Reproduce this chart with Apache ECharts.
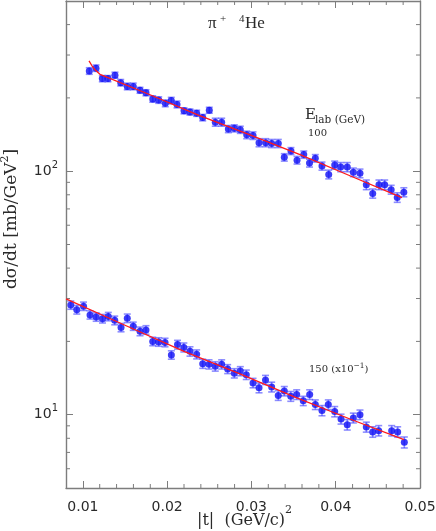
<!DOCTYPE html>
<html>
<head>
<meta charset="utf-8">
<script src="https://cdn.jsdelivr.net/npm/echarts@6/dist/echarts.min.js"></script>
<style>
html, body { margin: 0; padding: 0; background: #fff; }
#chart { width: 436px; height: 531px; }
</style>
</head>
<body>
<div id="chart"></div>
<script>
// pi+ 4He elastic, E_lab = 100 GeV
var t100 = [0.01076, 0.01156, 0.01231, 0.01298, 0.01381, 0.01449, 0.01527, 0.01598, 0.01678, 0.01749,
            0.01829, 0.0190, 0.01978, 0.02049, 0.02117, 0.0220, 0.02271, 0.0235, 0.02422, 0.0250,
            0.02571, 0.02647, 0.02726, 0.02797, 0.02868, 0.02944, 0.03019, 0.0309, 0.03169, 0.0324,
            0.03319, 0.0339, 0.03469, 0.03541, 0.03621, 0.03689, 0.03758, 0.03837, 0.03917, 0.03988,
            0.04059, 0.04137, 0.04209, 0.04288, 0.04363, 0.04439, 0.04513, 0.04581, 0.04658, 0.0473, 0.04808];
var y100 = [258, 265, 240, 240, 248, 231, 223, 223, 215, 210,
            198, 196, 190, 195, 188, 177, 175, 173, 166, 178,
            159, 159, 149, 150, 148, 141, 140, 131, 131, 130,
            130, 114, 121, 111, 117, 108, 113, 105, 97, 106,
            104, 104, 99, 98, 88, 81, 88, 88, 84, 78, 82];
var e100 = [8, 8, 7, 7, 7, 7, 7, 7, 6, 6,
            6, 6, 6, 6, 6, 5, 5, 5, 5, 5,
            6, 6, 5, 5, 5, 5, 5, 5, 5, 5,
            5, 4, 4, 4, 4, 4, 4, 4, 4, 4,
            4.5, 4.5, 4, 4, 4, 3.5, 4, 4, 3.5, 3.5, 3.5];

// E_lab = 150 GeV, shown x10^-1
var t150 = [0.00857, 0.00928, 0.01008, 0.01085, 0.01158, 0.01233, 0.01302, 0.01378, 0.01453, 0.01527,
            0.01598, 0.01678, 0.01749, 0.01829, 0.0190, 0.01975, 0.0205, 0.02123, 0.02198, 0.02271,
            0.0235, 0.02422, 0.02497, 0.02571, 0.02647, 0.02718, 0.02797, 0.02868, 0.02939, 0.03019,
            0.0309, 0.03167, 0.0324, 0.03318, 0.0339, 0.03467, 0.03537, 0.03615, 0.03691, 0.03758,
            0.03837, 0.03912, 0.03988, 0.04063, 0.04137, 0.04209, 0.04288, 0.04363, 0.04439, 0.0451,
            0.04664, 0.04735, 0.04814];
var y150 = [28.2, 27.0, 27.9, 25.7, 25.2, 24.8, 25.3, 24.4, 22.8, 24.9,
            23.1, 22.0, 22.3, 20.0, 19.9, 19.8, 17.6, 19.4, 18.9, 18.2,
            17.7, 16.2, 16.1, 15.8, 16.1, 15.4, 14.8, 15.1, 14.6, 13.5,
            12.9, 13.9, 13.0, 12.0, 12.5, 11.9, 12.1, 11.4, 12.1, 11.0,
            10.4, 11.0, 10.3, 9.6, 9.1, 9.7, 10.0, 8.9, 8.5, 8.6,
            8.6, 8.5, 7.7];
var e150 = [1.1, 1.1, 1.1, 1.0, 1.0, 1.0, 1.0, 1.0, 0.9, 1.0,
            0.9, 0.9, 0.9, 0.8, 0.8, 0.8, 0.7, 0.8, 0.8, 0.8,
            0.75, 0.7, 0.7, 0.7, 0.7, 0.65, 0.65, 0.65, 0.65, 0.6,
            0.6, 0.6, 0.6, 0.55, 0.55, 0.55, 0.55, 0.5, 0.55, 0.5,
            0.5, 0.5, 0.5, 0.45, 0.45, 0.45, 0.45, 0.42, 0.42, 0.42,
            0.42, 0.42, 0.4];

// fitted curves (red)
var fitT100 = [0.01073, 0.01108, 0.01144, 0.01203, 0.01797, 0.0237, 0.02983, 0.03576, 0.04169, 0.04786];
var fitY100 = [284, 271, 261, 250, 206, 170, 141, 117, 95.8, 77.9];
var fitT150 = [0.008, 0.0150, 0.0220, 0.02864, 0.03517, 0.04169, 0.0481];
var fitY150 = [29.9, 23.3, 18.2, 14.7, 11.8, 9.6, 7.9];

// axes
var xMin = 0.008, xMax = 0.05;
var yMin = 5, yMax = 500;
var xMinorTicks = [0.012, 0.014, 0.016, 0.018, 0.022, 0.024, 0.026, 0.028, 0.032, 0.034, 0.036, 0.038,
                   0.042, 0.044, 0.046, 0.048];
var yMinorTicks = [6, 7, 8, 9, 20, 30, 40, 50, 60, 70, 80, 90, 200, 300, 400];

var frameColor = '#7d7d7d';
var textColor = '#2a2a2a';
var errColor = 'rgba(50,50,255,0.55)';

var chart = echarts.init(document.getElementById('chart'));

function pairs(xs, ys) {
  return xs.map(function (x, i) { return [x, ys[i]]; });
}
function errRows(xs, ys, es) {
  return xs.map(function (x, i) { return [x, ys[i] - es[i], ys[i] + es[i]]; });
}

function renderErr(params, api) {
  var lo = api.coord([api.value(0), api.value(1)]);
  var hi = api.coord([api.value(0), api.value(2)]);
  var c = 3.5;
  var st = { stroke: errColor, lineWidth: 1.6 };
  return {
    type: 'group',
    children: [
      { type: 'line', shape: { x1: lo[0], y1: lo[1], x2: hi[0], y2: hi[1] }, style: st },
      { type: 'line', shape: { x1: lo[0] - c, y1: lo[1], x2: lo[0] + c, y2: lo[1] }, style: st },
      { type: 'line', shape: { x1: hi[0] - c, y1: hi[1], x2: hi[0] + c, y2: hi[1] }, style: st }
    ]
  };
}

// minor ticks on all four sides, through the axis scales
function renderYMinor(params, api) {
  var v = api.value(1);
  var l = api.coord([xMin, v]);
  var r = api.coord([xMax, v]);
  var st = { stroke: frameColor, lineWidth: 1 };
  return {
    type: 'group',
    children: [
      { type: 'line', shape: { x1: l[0], y1: l[1], x2: l[0] + 4, y2: l[1] }, style: st },
      { type: 'line', shape: { x1: r[0], y1: r[1], x2: r[0] - 4, y2: r[1] }, style: st }
    ]
  };
}
function renderXMinor(params, api) {
  var v = api.value(0);
  var b = api.coord([v, yMin]);
  var t = api.coord([v, yMax]);
  var st = { stroke: frameColor, lineWidth: 1 };
  return {
    type: 'group',
    children: [
      { type: 'line', shape: { x1: b[0], y1: b[1], x2: b[0], y2: b[1] - 4 }, style: st },
      { type: 'line', shape: { x1: t[0], y1: t[1], x2: t[0], y2: t[1] + 4 }, style: st }
    ]
  };
}

var axisCommon = {
  axisLine: { show: true, onZero: false, lineStyle: { color: frameColor, width: 1.4 } },
  axisTick: { show: true, inside: true, length: 7, lineStyle: { color: frameColor, width: 1 } },
  splitLine: { show: false }
};

var option = {
  backgroundColor: '#ffffff',
  animation: false,
  grid: { left: 66, right: 16, top: 1, bottom: 43, outerBoundsMode: 'none' },
  xAxis: [
    Object.assign({
      type: 'value', min: xMin, max: xMax, position: 'bottom',
      axisLabel: {
        margin: 12, color: textColor, fontSize: 14, fontFamily: 'DejaVu Sans',
        formatter: function (v) {
          return Math.abs(v * 100 - Math.round(v * 100)) < 1e-6 ? v.toFixed(2) : '';
        }
      }
    }, axisCommon),
    Object.assign({
      type: 'value', min: xMin, max: xMax, position: 'top',
      axisLabel: { show: false }
    }, axisCommon)
  ],
  yAxis: [
    Object.assign({
      type: 'log', logBase: 10, min: yMin, max: yMax, position: 'left',
      axisLabel: {
        margin: 8, color: textColor, padding: [0, 0, 4, 0],
        formatter: function (v) {
          var e = Math.log10(v);
          if (Math.abs(e - Math.round(e)) > 1e-6) return '';
          return '{b|10}{s|' + Math.round(e) + '}';
        },
        rich: {
          b: { fontSize: 14, fontFamily: 'DejaVu Sans', color: textColor, lineHeight: 18, verticalAlign: 'bottom' },
          s: { fontSize: 10, fontFamily: 'DejaVu Sans', color: textColor, verticalAlign: 'top' }
        }
      }
    }, axisCommon),
    Object.assign({
      type: 'log', logBase: 10, min: yMin, max: yMax, position: 'right',
      axisLabel: { show: false }
    }, axisCommon)
  ],
  graphic: [
    // title: pi+ 4He
    { type: 'text', x: 208, y: 24, style: { text: 'π', fill: textColor, font: '17px "Liberation Serif"', verticalAlign: 'middle' } },
    { type: 'text', x: 220, y: 19, style: { text: '+', fill: textColor, font: '11px "Liberation Serif"', verticalAlign: 'middle' } },
    { type: 'text', x: 239, y: 19, style: { text: '4', fill: textColor, font: '11px "Liberation Serif"', verticalAlign: 'middle' } },
    { type: 'text', x: 245, y: 24, style: { text: 'He', fill: textColor, font: '17px "Liberation Serif"', verticalAlign: 'middle' } },
    // E_lab (GeV)
    { type: 'text', x: 305, y: 115, style: { text: 'E', fill: textColor, font: '15px "DejaVu Serif"', verticalAlign: 'middle' } },
    { type: 'text', x: 315, y: 120, style: { text: 'lab (GeV)', fill: textColor, font: '10.5px "DejaVu Serif"', verticalAlign: 'middle' } },
    { type: 'text', x: 308, y: 133, style: { text: '100', fill: textColor, font: '10px "DejaVu Serif"', verticalAlign: 'middle' } },
    {
      type: 'text', x: 309, y: 362,
      style: {
        text: '{b|150 (x10}{s|−1}{b|)}', fill: textColor,
        rich: {
          b: { fontSize: 10, fontFamily: 'DejaVu Serif', fill: textColor, lineHeight: 12, verticalAlign: 'bottom' },
          s: { fontSize: 7.5, fontFamily: 'DejaVu Serif', fill: textColor, verticalAlign: 'top' }
        }
      }
    },
    {
      type: 'text', x: 197, y: 505,
      style: {
        text: '{b||t|  (GeV/c)}{s|2}', fill: textColor,
        rich: {
          b: { fontSize: 16, fontFamily: 'DejaVu Serif', fill: textColor, lineHeight: 24, verticalAlign: 'bottom' },
          s: { fontSize: 11, fontFamily: 'DejaVu Serif', fill: textColor, verticalAlign: 'top' }
        }
      }
    },
    {
      type: 'text', x: 10, y: 219, rotation: Math.PI / 2,
      style: {
        text: '{b|dσ/dt [mb/GeV}{s|2}{b|]}', fill: textColor,
        align: 'center', verticalAlign: 'middle',
        rich: {
          b: { fontSize: 17, fontFamily: 'DejaVu Serif', fill: textColor, lineHeight: 21, verticalAlign: 'bottom' },
          s: { fontSize: 11, fontFamily: 'DejaVu Serif', fill: textColor, verticalAlign: 'top' }
        }
      }
    }
  ],
  series: [
    {
      name: 'yMinor', type: 'custom', renderItem: renderYMinor, silent: true, z: 1,
      data: yMinorTicks.map(function (v) { return [xMin, v]; })
    },
    {
      name: 'xMinor', type: 'custom', renderItem: renderXMinor, silent: true, z: 1,
      data: xMinorTicks.map(function (v) { return [v, yMin]; })
    },
    {
      name: 'err100', type: 'custom', renderItem: renderErr, z: 2,
      data: errRows(t100, y100, e100)
    },
    {
      name: 'err150', type: 'custom', renderItem: renderErr, z: 2,
      data: errRows(t150, y150, e150)
    },
    {
      name: '100 GeV', type: 'scatter', symbol: 'circle', symbolSize: 7, z: 3,
      itemStyle: { color: '#0b0bf5' },
      data: pairs(t100, y100)
    },
    {
      name: '150 GeV', type: 'scatter', symbol: 'circle', symbolSize: 7, z: 3,
      itemStyle: { color: '#0b0bf5' },
      data: pairs(t150, y150)
    },
    {
      name: 'fit100', type: 'line', showSymbol: false, z: 4,
      lineStyle: { color: '#ff1a1a', width: 1.3 },
      data: pairs(fitT100, fitY100)
    },
    {
      name: 'fit150', type: 'line', showSymbol: false, z: 4,
      lineStyle: { color: '#ff1a1a', width: 1.3 },
      data: pairs(fitT150, fitY150)
    }
  ]
};

chart.setOption(option);
</script>
</body>
</html>
